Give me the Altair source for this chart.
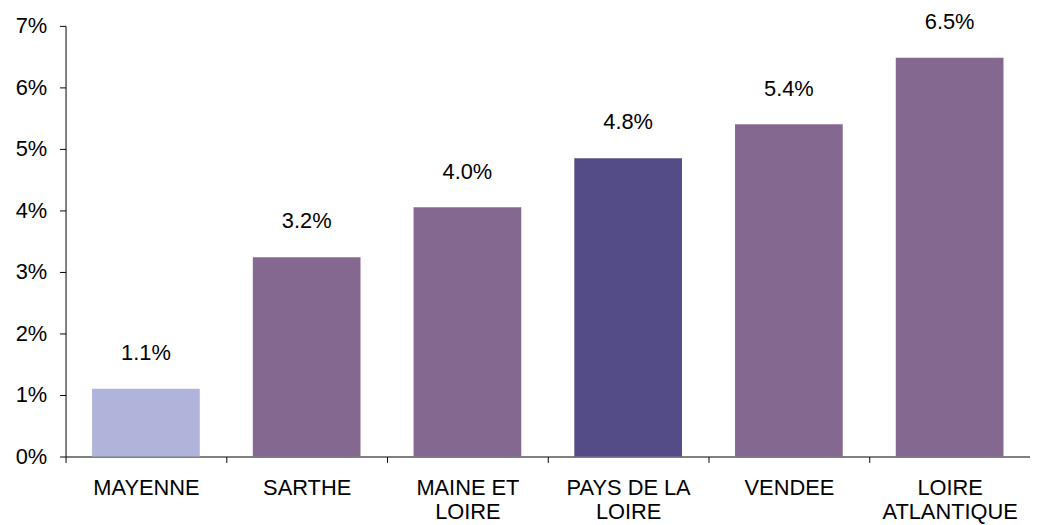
import altair as alt
import pandas as pd

categories = ["MAYENNE", "SARTHE", "MAINE ET LOIRE", "PAYS DE LA LOIRE", "VENDEE", "LOIRE ATLANTIQUE"]
values = [1.1, 3.24, 4.05, 4.85, 5.4, 6.48]
labels = ["1.1%", "3.2%", "4.0%", "4.8%", "5.4%", "6.5%"]
colors = ["#B0B4DA", "#84688F", "#84688F", "#544C87", "#84688F", "#84688F"]
y_ticks = [0, 1, 2, 3, 4, 5, 6, 7]

df = pd.DataFrame({"cat": categories, "val": values, "lab": labels, "col": colors})

FONT = "Liberation Sans"
FS = 22

label_expr = (
    "datum.value == 'MAINE ET LOIRE' ? ['MAINE ET', 'LOIRE'] : "
    "datum.value == 'PAYS DE LA LOIRE' ? ['PAYS DE LA', 'LOIRE'] : "
    "datum.value == 'LOIRE ATLANTIQUE' ? ['LOIRE', 'ATLANTIQUE'] : datum.value"
)

x = alt.X(
    "cat:N",
    sort=categories,
    title=None,
    scale=alt.Scale(paddingInner=0, paddingOuter=0),
    axis=alt.Axis(
        labelExpr=label_expr,
        labelAngle=0,
        labelFont=FONT,
        labelFontSize=FS,
        labelColor="#000000",
        labelPadding=25,
        labelLineHeight=24,
        labelBaseline="middle",
        tickBand="extent",
        tickSize=6,
        tickColor="#000000",
        domainColor="#000000",
        grid=False,
    ),
)

y = alt.Y(
    "val:Q",
    title=None,
    scale=alt.Scale(domain=[0, 7], nice=False),
    axis=alt.Axis(
        values=y_ticks,
        labelExpr="datum.value + '%'",
        labelFont=FONT,
        labelFontSize=FS,
        labelColor="#000000",
        labelPadding=13,
        tickSize=6,
        tickColor="#000000",
        domainColor="#000000",
        grid=False,
    ),
)

bars = alt.Chart(df).mark_bar(width=alt.RelativeBandSize(0.67)).encode(
    x=x, y=y, color=alt.Color("col:N", scale=None)
)

text = alt.Chart(df).mark_text(
    baseline="bottom", dy=-24, font=FONT, fontSize=FS, color="#000000"
).encode(x=alt.X("cat:N", sort=categories), y="val:Q", text="lab:N")

chart = (
    alt.layer(bars, text)
    .properties(
        width=972,
        height=434,
        autosize=alt.AutoSizeParams(type="none"),
        padding={"left": 58, "top": 16, "right": 0, "bottom": 66},
    )
    .configure_view(stroke=None)
)

chart.save("out.html", embed_options={"renderer": "svg", "actions": False})
